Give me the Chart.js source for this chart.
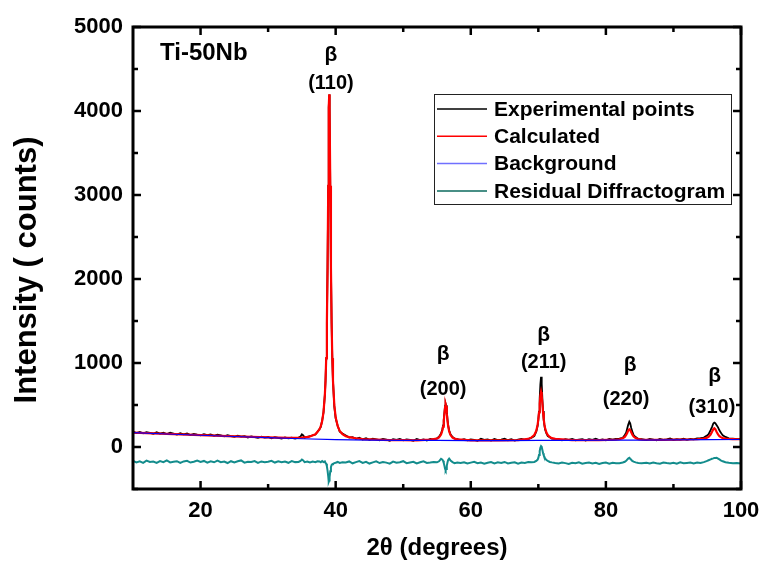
<!DOCTYPE html>
<html>
<head>
<meta charset="utf-8">
<script src="https://cdn.jsdelivr.net/npm/chart.js@4.4.0/dist/chart.umd.min.js"></script>
<style>
  html, body { margin: 0; padding: 0; background: #fff; }
</style>
</head>
<body>
<canvas id="xrdChart" width="761" height="567"></canvas>
<script>
// XRD pattern of Ti-50Nb: Rietveld fit

// 2theta grid shared by the measured points and the residual
const twoTheta = [
  10,10.5,11,11.5,12,12.5,13,13.5,14,14.5,15,15.5,16,16.5,17,17.5,18,18.5,19,19.5,
  20,20.5,21,21.5,22,22.5,23,23.5,24,24.5,25,25.5,26,26.5,27,27.5,28,28.5,29,29.5,
  30,30.5,31,31.5,32,32.5,33,33.5,34,
  34.5,34.8,35,35.2,35.4,35.8,36.2,36.6,37,37.3,
  37.6,37.8,38,38.2,38.4,38.5,38.6,38.7,38.8,38.9,38.95,39,39.05,39.1,39.2,39.3,39.4,39.5,39.6,39.8,40,40.3,40.6,41,
  41.5,42,42.5,43,43.5,44,44.5,45,45.5,46,46.5,47,47.5,48,48.5,49,49.5,50,50.5,51,51.5,52,52.5,53,53.5,54,54.5,
  55,55.3,55.6,55.8,55.9,56,56.1,56.2,56.28,56.35,56.45,56.55,56.65,56.8,57,57.3,57.6,58,
  58.5,59,59.5,60,60.5,61,61.5,62,62.5,63,63.5,64,64.5,65,65.5,66,66.5,67,67.5,68,68.5,
  69,69.4,69.7,69.9,70,70.1,70.2,70.3,70.4,70.5,70.6,70.7,70.8,70.9,71,71.2,71.4,71.7,72,72.5,
  73,73.5,74,74.5,75,75.5,76,76.5,77,77.5,78,78.5,79,79.5,80,80.5,81,81.5,
  82,82.5,82.8,83,83.15,83.3,83.47,83.6,83.75,83.9,84.1,84.4,84.8,85.3,
  86,86.5,87,87.5,88,88.5,89,89.5,90,90.5,91,91.5,92,92.5,93,93.5,
  94,94.5,94.9,95.2,95.5,95.7,95.9,96.05,96.2,96.4,96.6,96.8,97,97.3,97.7,98.2,98.8,99.4,100
];

const experimental = [
  185,166,180,162,176,168,158,175,160,171, 154,169,158,147,163,151,160,142,155,146,
  139,153,142,150,133,146,137,126,141,129, 122,136,124,130,114,127,118,109,123,112,
  119,104,116,108,99,113,104,110,100,
  112,124,150,138,112,122,128,140,148,178,
  213,239,315,411,620,790,1055,1475,2140,3108,3630,4038,4196,4038,3108,2141,1476,1055,790,481,341,253,182,162,
  138,112,118,97,110,90,104,86,99,92, 81,96,88,75,94,84,97,79,91,86, 73,95,82,90,78,96,88,
  104,122,160,212,258,320,410,492,515,496,418,330,262,196,150,118,101,95,
  82,94,79,91,86,73,97,84,90,77, 95,83,88,100,81,92,76,89,96,85, 95,
  111,130,184,252,325,421,578,744,835,752,570,428,318,258,208,163,129,115,99,96,
  90,79,93,84,97,81,89,94,78,92, 86,99,83,91,80,95,88,97,
  99,110,142,170,218,264,301,283,226,186,141,118,96,94,
  83,95,88,79,97,86,92,101,84,94, 89,98,85,96,90,103,
  106,112,133,153,200,237,280,290,284,260,234,198,174,138,120,102,100,94,97
];

const residual = [
  -165,-184,-170,-188,-162,-179,-174,-190,-168,-181, -160,-183,-175,-169,-190,-172,-164,-185,-176,-161,
  -178,-166,-187,-171,-182,-163,-180,-174,-191,-169, -183,-170,-160,-186,-175,-179,-167,-189,-172,-181,
  -176,-164,-185,-170,-182,-173,-188,-168,-180,
  -178,-165,-150,-160,-180,-172,-185,-174,-181,-170,
  -172,-182,-168,-180,-171,-190,-200,-230,-280,-350,-395,-415,-400,-360,-290,-240,-215,-205,-200,-192,-188,-178,-190,-182,
  -185,-172,-194,-180,-168,-189,-176,-197,-183,-170, -191,-179,-186,-199,-174,-188,-181,-169,-193,-184,
  -176,-196,-182,-170,-190,-185,-178,
  -182,-170,-140,-150,-165,-190,-225,-260,-275,-262,-225,-185,-155,-138,-160,-180,-192,-185,
  -190,-181,-197,-186,-176,-193,-184,-200,-188,-179, -195,-183,-191,-178,-196,-187,-182,-198,-185,-189, -180,
  -182,-178,-165,-150,-130,-95,-50,-10,10,0,-35,-75,-100,-120,-135,-155,-165,-178,-183,-190,
  -196,-184,-192,-201,-187,-194,-182,-199,-190,-185, -197,-188,-203,-191,-184,-198,-189,-193,
  -192,-185,-176,-165,-150,-138,-128,-140,-152,-165,-174,-183,-190,-194,
  -188,-197,-185,-193,-200,-184,-191,-196,-187,-199, -183,-194,-190,-186,-195,-185,
  -190,-180,-168,-158,-148,-140,-135,-130,-132,-128,-138,-148,-158,-170,-182,-188,-194,-190,-196
];

// calculated profile (smooth, so it has its own grid)
const calcTheta = [
  10,15,20,25,30,33,35,36,37,
  37.6,37.8,38,38.2,38.4,38.5,38.6,38.7,38.8,38.9,38.95,39,39.05,39.1,39.2,39.3,39.4,39.5,39.6,39.8,40,40.3,40.6,41,
  41.5,42,43,44,46,48,50,52,54,
  55,55.3,55.6,55.8,55.9,56,56.1,56.2,56.28,56.35,56.45,56.55,56.65,56.8,57,57.3,57.6,58,
  60,64,67,68.5,
  69,69.4,69.7,69.9,70,70.1,70.2,70.3,70.4,70.5,70.6,70.7,70.8,70.9,71,71.2,71.4,71.7,72,72.5,
  75,79,81.5,
  82,82.5,82.8,83,83.15,83.3,83.47,83.6,83.75,83.9,84.1,84.4,84.8,85.3,
  88,91,93.5,
  94,94.5,94.9,95.2,95.5,95.7,95.9,96.05,96.2,96.4,96.6,96.8,97,97.3,97.7,98.2,98.8,99.4,100
];
const calculated = [
  172,157,142,126,114,109,112,120,151,
  208,247,309,416,619,792,1057,1477,2143,3110,3631,4040,4198,4040,3110,2143,1477,1057,792,498,354,247,191,154,
  128,117,104,94,87,83,81,80,87,
  100,115,148,199,243,308,394,479,508,486,404,315,249,185,142,112,99,91,
  79,79,82,96,
  114,143,195,269,329,411,513,611,655,611,513,411,329,269,226,172,143,119,106,96,
  82,83,88,
  92,104,121,143,167,195,211,201,175,149,125,106,94,88,
  85,88,92,
  96,101,109,122,149,178,211,222,211,178,149,129,117,106,99,95,93,92,92
];

const bgTheta = [10,15,20,25,30,35,40,45,50,55,60,65,70,75,80,85,90,95,100];
const background = [170,155,140,125,111,98,88,82,79,78,77,77,78,79,81,83,85,87,89];

const xTicks = [20, 40, 60, 80, 100];
const xMinor = [30, 50, 70, 90];
const yTicks = [0, 1000, 2000, 3000, 4000, 5000];
const yMinor = [-500, 500, 1500, 2500, 3500, 4500];

// beta reflection labels (data coords of the beta and of the (hkl) text)
const peakNotes = [
  {hkl: '(110)', xb: 39.3, yb: 4660, xh: 39.3, yh: 4330},
  {hkl: '(200)', xb: 55.9, yb: 1100, xh: 55.9, yh: 680},
  {hkl: '(211)', xb: 70.8, yb: 1330, xh: 70.8, yh: 1010},
  {hkl: '(220)', xb: 83.6, yb: 975,  xh: 83.0, yh: 560},
  {hkl: '(310)', xb: 96.1, yb: 845,  xh: 95.7, yh: 465}
];

const FONT = '"Liberation Sans", Arial, sans-serif';
const pts = (xs, ys) => xs.map((x, i) => ({x: x, y: ys[i]}));

const decor = {
  id: 'decor',
  afterDatasetsDraw(chart) {
    const {ctx, chartArea: a, scales: {x, y}} = chart;
    ctx.save();
    ctx.strokeStyle = '#000';
    ctx.lineWidth = 2.5;

    // ticks point into the frame on all four sides
    const tickX = (v, len) => {
      const px = x.getPixelForValue(v);
      ctx.beginPath();
      ctx.moveTo(px, a.bottom); ctx.lineTo(px, a.bottom - len);
      ctx.moveTo(px, a.top); ctx.lineTo(px, a.top + len);
      ctx.stroke();
    };
    const tickY = (v, len) => {
      const py = y.getPixelForValue(v);
      ctx.beginPath();
      ctx.moveTo(a.left, py); ctx.lineTo(a.left + len, py);
      ctx.moveTo(a.right, py); ctx.lineTo(a.right - len, py);
      ctx.stroke();
    };
    xTicks.forEach(v => tickX(v, 8));
    xMinor.forEach(v => tickX(v, 5));
    yTicks.forEach(v => tickY(v, 8));
    yMinor.forEach(v => tickY(v, 5));

    ctx.lineWidth = 3;
    ctx.strokeRect(a.left, a.top, a.right - a.left, a.bottom - a.top);

    ctx.fillStyle = '#000';
    ctx.textBaseline = 'middle';

    // y axis title
    ctx.save();
    ctx.translate(27, 270);
    ctx.rotate(-Math.PI / 2);
    ctx.textAlign = 'center';
    ctx.font = 'bold 31px ' + FONT;
    ctx.fillText('Intensity ( counts)', 0, 0);
    ctx.restore();

    // sample name
    ctx.font = 'bold 24px ' + FONT;
    ctx.textAlign = 'left';
    ctx.fillText('Ti-50Nb', a.left + 27, a.top + 26);

    // reflection labels
    ctx.textAlign = 'center';
    peakNotes.forEach(n => {
      ctx.font = 'bold 21px ' + FONT;
      ctx.fillText('\u03b2', x.getPixelForValue(n.xb), y.getPixelForValue(n.yb));
      ctx.font = 'bold 20px ' + FONT;
      ctx.fillText(n.hkl, x.getPixelForValue(n.xh), y.getPixelForValue(n.yh));
    });

    // legend box
    const bx = a.right - 307, by = a.top + 67, bw = 297, bh = 110;
    ctx.lineWidth = 1;
    ctx.strokeStyle = '#222';
    ctx.strokeRect(bx + 0.5, by + 0.5, bw, bh);
    ctx.font = 'bold 21px ' + FONT;
    ctx.textAlign = 'left';
    chart.data.datasets.forEach((ds, i) => {
      const ry = by + 15 + i * 27.3;
      ctx.strokeStyle = ds.legendColor || ds.borderColor;
      ctx.lineWidth = 1.5;
      ctx.beginPath();
      ctx.moveTo(bx + 3, ry); ctx.lineTo(bx + 53, ry);
      ctx.stroke();
      ctx.fillText(ds.label, bx + 60, ry + 1);
    });
    ctx.restore();
  }
};

new Chart(document.getElementById('xrdChart'), {
  type: 'line',
  data: {
    datasets: [
      {label: 'Experimental points', data: pts(twoTheta, experimental), borderColor: '#000000', borderWidth: 1.8, order: 2},
      {label: 'Calculated', data: pts(calcTheta, calculated), borderColor: '#ff0000', borderWidth: 2.2, order: 1},
      {label: 'Background', data: pts(bgTheta, background), borderColor: '#0000ff', legendColor: '#7070ff', borderWidth: 1.2, order: 0},
      {label: 'Residual Diffractogram', data: pts(twoTheta, residual), borderColor: '#138c8c', legendColor: '#0b6a5e', borderWidth: 2, order: 3}
    ]
  },
  options: {
    responsive: false,
    animation: false,
    devicePixelRatio: 1,
    elements: {point: {radius: 0}, line: {tension: 0}},
    layout: {padding: {left: 0, right: 20, top: 27, bottom: 0}},
    plugins: {legend: {display: false}, tooltip: {enabled: false}},
    scales: {
      x: {
        type: 'linear', min: 10, max: 100,
        afterBuildTicks: s => { s.ticks = xTicks.map(v => ({value: v})); },
        afterFit: s => { s.height = 78; s.paddingLeft = 0; s.paddingRight = 0; },
        grid: {display: false, drawTicks: false},
        border: {display: false},
        ticks: {color: '#000', padding: 9, maxRotation: 0, font: {family: FONT, size: 22, weight: 'bold'}},
        title: {display: true, text: '2\u03b8 (degrees)', color: '#000', padding: {top: 0, bottom: 4},
                font: {family: FONT, size: 24, weight: 'bold'}}
      },
      y: {
        min: -500, max: 5000,
        afterBuildTicks: s => { s.ticks = yTicks.map(v => ({value: v})); },
        afterFit: s => { s.width = 133; },
        grid: {display: false, drawTicks: false},
        border: {display: false},
        ticks: {color: '#000', padding: 10, callback: v => String(v), font: {family: FONT, size: 22, weight: 'bold'}}
      }
    }
  },
  plugins: [decor]
});
</script>
</body>
</html>
